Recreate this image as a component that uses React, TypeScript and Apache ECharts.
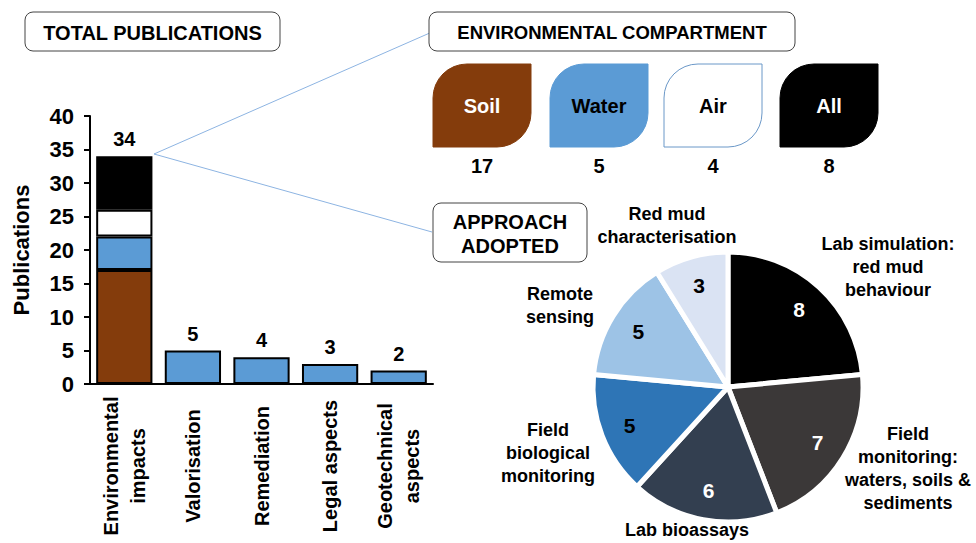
import React, { useEffect, useRef } from "react";
import * as echarts from "echarts";

const categories = [
  "Environmental\nimpacts",
  "Valorisation",
  "Remediation",
  "Legal aspects",
  "Geotechnical\naspects",
];
const totals = [34, 5, 4, 3, 2];
const compartments = ["Soil", "Water", "Air", "All"];
const compartmentCounts = [17, 5, 4, 8];
const approaches = [
  "Lab simulation:\nred mud\nbehaviour",
  "Field\nmonitoring:\nwaters, soils &\nsediments",
  "Lab bioassays",
  "Field\nbiological\nmonitoring",
  "Remote\nsensing",
  "Red mud\ncharacterisation",
];
const approachCounts = [8, 7, 6, 5, 5, 3];

const FONT = "'Liberation Sans', Arial, sans-serif";
const compartmentColors = ["#843c0c", "#5b9bd5", "#ffffff", "#000000"];
const compartmentTextColors = ["#ffffff", "#000000", "#000000", "#ffffff"];
const approachColors = ["#000000", "#3b3838", "#333f50", "#2e75b6", "#9dc3e6", "#dae3f3"];
const approachValueColors = ["#ffffff", "#ffffff", "#ffffff", "#000000", "#000000", "#000000"];
const approachLabelPos = [
  [888, 267],
  [908, 468],
  [687, 530],
  [548, 453],
  [560, 305],
  [667, 225],
];
const leafX = [433, 550, 664, 780];

export default function App() {
  const ref = useRef<HTMLDivElement>(null);
  useEffect(() => {
    document.body.style.margin = "0";
    const chart = echarts.init(ref.current!, null, { renderer: "svg" });

    const valueLabel = {
      show: true,
      position: "top",
      distance: 7,
      fontFamily: FONT,
      fontWeight: "bold",
      fontSize: 20,
      color: "#000",
    };

    const barSeries: any[] = compartments.map((c, i) => ({
      name: c,
      type: "bar",
      stack: "total",
      barCategoryGap: "18%",
      data: categories.map((_, j) => (j === 0 ? compartmentCounts[i] : "-")),
      itemStyle: { color: compartmentColors[i], borderColor: "#000", borderWidth: 2 },
      label:
        i === compartments.length - 1
          ? { ...valueLabel, formatter: () => String(totals[0]) }
          : { show: false },
    }));
    barSeries.push({
      name: "Other",
      type: "bar",
      stack: "total",
      barCategoryGap: "18%",
      data: totals.map((v, j) => (j === 0 ? "-" : v)),
      itemStyle: { color: "#5b9bd5", borderColor: "#000", borderWidth: 2 },
      label: valueLabel,
    });

    const graphic: any[] = [];
    const box = (x: number, y: number, w: number, h: number, text: string, size: number) => {
      graphic.push({
        type: "rect",
        shape: { x, y, width: w, height: h, r: 8 },
        style: { fill: "#fff", stroke: "#444", lineWidth: 1 },
        z: 10,
      });
      graphic.push({
        type: "text",
        x: x + w / 2,
        y: y + h / 2 + 1,
        style: {
          text,
          fill: "#000",
          font: `bold ${size}px ${FONT}`,
          align: "center",
          verticalAlign: "middle",
          lineHeight: 24,
        },
        z: 11,
      });
    };
    graphic.push({
      type: "line",
      shape: { x1: 154, y1: 154, x2: 432, y2: 32 },
      style: { stroke: "#8db4e2", lineWidth: 1 },
      z: 5,
    });
    graphic.push({
      type: "line",
      shape: { x1: 154, y1: 154, x2: 432, y2: 232 },
      style: { stroke: "#8db4e2", lineWidth: 1 },
      z: 5,
    });
    box(25, 12, 255, 39, "TOTAL PUBLICATIONS", 20);
    box(429, 12, 366, 39, "ENVIRONMENTAL COMPARTMENT", 18.5);
    box(433, 203, 154, 59, "APPROACH\nADOPTED", 20);

    compartments.forEach((c, i) => {
      const x = leafX[i];
      graphic.push({
        type: "rect",
        shape: { x, y: 64, width: 98, height: 83, r: [34, 0, 34, 0] },
        style: {
          fill: compartmentColors[i],
          stroke: i === 2 ? "#6b98c8" : compartmentColors[i],
          lineWidth: 1,
        },
        z: 10,
      });
      graphic.push({
        type: "text",
        x: x + 49,
        y: 106,
        style: {
          text: c,
          fill: compartmentTextColors[i],
          font: `bold 20px ${FONT}`,
          align: "center",
          verticalAlign: "middle",
        },
        z: 11,
      });
      graphic.push({
        type: "text",
        x: x + 49,
        y: 166,
        style: {
          text: String(compartmentCounts[i]),
          fill: "#000",
          font: `bold 20px ${FONT}`,
          align: "center",
          verticalAlign: "middle",
        },
        z: 11,
      });
    });

    const pieData = approaches.map((name, i) => ({
      name,
      value: approachCounts[i],
      itemStyle: { color: approachColors[i] },
    }));

    chart.setOption({
      animation: false,
      backgroundColor: "#fff",
      textStyle: { fontFamily: FONT },
      grid: { left: 90, top: 116, width: 343, height: 268, containLabel: false },
      xAxis: {
        type: "category",
        data: categories,
        axisLine: { show: true, lineStyle: { color: "#000", width: 2 } },
        axisTick: { show: false },
        axisLabel: {
          rotate: 90,
          align: "center",
          verticalAlign: "middle",
          margin: 82,
          interval: 0,
          fontFamily: FONT,
          fontWeight: "bold",
          fontSize: 20,
          lineHeight: 27,
          color: "#000",
        },
      },
      yAxis: {
        type: "value",
        min: 0,
        max: 40,
        interval: 5,
        name: "Publications",
        nameLocation: "middle",
        nameRotate: 90,
        nameGap: 58,
        nameTextStyle: { fontFamily: FONT, fontWeight: "bold", fontSize: 22, color: "#000" },
        axisLine: { show: true, lineStyle: { color: "#000", width: 2 } },
        axisTick: { show: true, length: 6, lineStyle: { color: "#000", width: 2 } },
        axisLabel: { fontFamily: FONT, fontWeight: "bold", fontSize: 22, color: "#000", margin: 16 },
        splitLine: { show: false },
      },
      series: [
        ...barSeries,
        {
          name: "Approach",
          type: "pie",
          center: [728, 387],
          radius: [0, 135],
          startAngle: 90,
          clockwise: true,
          data: pieData,
          itemStyle: { borderColor: "#fff", borderWidth: 5 },
          label: {
            show: true,
            position: "outside",
            formatter: "{b}",
            fontFamily: FONT,
            fontWeight: "bold",
            fontSize: 18,
            lineHeight: 23,
            color: "#000",
            align: "center",
            overflow: "none",
          },
          labelLine: { show: false },
          labelLayout: (params: any) => {
            const p = approachLabelPos[params.dataIndex];
            return { x: p[0], y: p[1], align: "center", verticalAlign: "middle" };
          },
          emphasis: { disabled: true },
          z: 2,
        },
        {
          name: "ApproachValues",
          type: "pie",
          center: [728, 387],
          radius: [72, 133],
          startAngle: 90,
          clockwise: true,
          silent: true,
          data: approaches.map((name, i) => ({
            name,
            value: approachCounts[i],
            itemStyle: { color: "transparent", borderWidth: 0 },
            label: { color: approachValueColors[i] },
          })),
          label: {
            show: true,
            position: "inside",
            formatter: "{c}",
            fontFamily: FONT,
            fontWeight: "bold",
            fontSize: 21,
          },
          labelLine: { show: false },
          emphasis: { disabled: true },
          z: 3,
        },
      ],
      graphic,
    });
    return () => chart.dispose();
  }, []);
  return <div ref={ref} style={{ width: 976, height: 543 }} />;
}
